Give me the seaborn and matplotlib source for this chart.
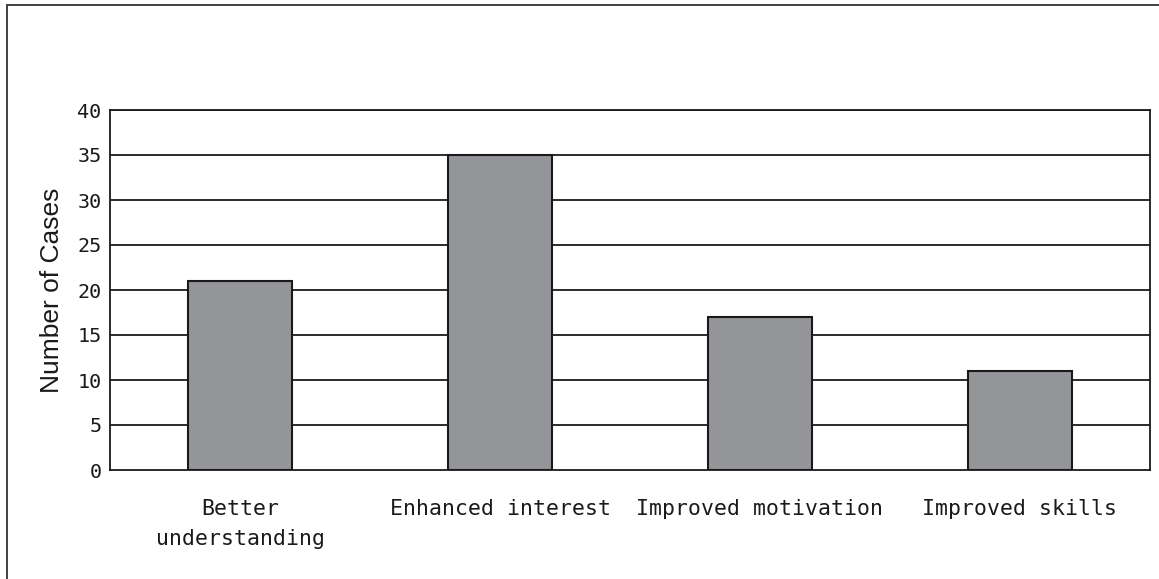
import matplotlib
matplotlib.use("Agg")
import matplotlib.pyplot as plt
from matplotlib.patches import Rectangle
from matplotlib.ticker import FixedLocator
import seaborn as sns
import pandas as pd

categories = ["Better\nunderstanding", "Enhanced interest", "Improved motivation", "Improved skills"]
cases = [21, 35, 17, 11]
y_ticks = [0, 5, 10, 15, 20, 25, 30, 35, 40]

sns.set_theme(style="white")
plt.rcParams["font.family"] = ["DejaVu Sans Mono", "DejaVu Sans"]

df = pd.DataFrame({"category": categories, "cases": cases})

fig = plt.figure(figsize=(11.59, 5.79), dpi=100)
ax = fig.add_axes([110 / 1159, 1 - 470 / 579, 1040 / 1159, 360 / 579])

sns.barplot(data=df, x="category", y="cases", color="#949599", edgecolor="#1a1a1a",
            linewidth=1.5, width=0.4, saturation=1, ax=ax, zorder=3)

ax.set_ylim(0, 40)
ax.set_xlim(-0.5, len(categories) - 0.5)
ax.set_yticks(y_ticks)
ax.set_yticklabels([str(t) for t in y_ticks], fontsize=14.5, color="#1a1a1a")
for t in y_ticks[1:]:
    ax.axhline(t, color="#1a1a1a", linewidth=1.3, zorder=1)

ax.tick_params(axis="y", length=0, pad=6)
ax.tick_params(axis="x", which="major", length=0, pad=21, labelsize=15.5, labelcolor="#1a1a1a")
for lbl in ax.get_xticklabels():
    lbl.set_linespacing(1.6)
ax.xaxis.set_minor_locator(FixedLocator([0.5, 1.5, 2.5]))
ax.tick_params(axis="x", which="minor", direction="in", length=6.5, width=1, color="#333333")

ax.set_xlabel("")
ax.set_ylabel("Number of Cases", fontsize=19, color="#1a1a1a", labelpad=10,
              family=["Liberation Sans", "DejaVu Sans"])

for side in ["left", "right", "top", "bottom"]:
    ax.spines[side].set_visible(True)
    ax.spines[side].set_color("#1a1a1a")
    ax.spines[side].set_linewidth(1.3)

# outer frame around the figure (left and top edges visible)
fig.patches.append(Rectangle((7 / 1159, -0.1), 1.2, 1 - 5 / 579 + 0.1,
                             transform=fig.transFigure, fill=False,
                             edgecolor="#333333", linewidth=1.3))

fig.savefig("out.png", dpi=100, facecolor="white")
